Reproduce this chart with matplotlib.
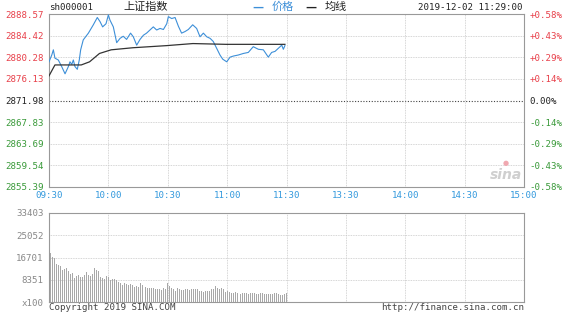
import matplotlib
matplotlib.use("Agg")
import matplotlib.pyplot as plt
import numpy as np

# ---------------- data ----------------
prev_close = 2871.98
price_ticks = [2855.39, 2859.54, 2863.69, 2867.83, 2871.98, 2876.13, 2880.28, 2884.42, 2888.57]
pct_labels = ["-0.58%", "-0.43%", "-0.29%", "-0.14%", "0.00%", "+0.14%", "+0.29%", "+0.43%", "+0.58%"]
time_ticks = [0, 30, 60, 90, 120, 150, 180, 210, 240]
time_labels = ["09:30", "10:00", "10:30", "11:00", "11:30", "13:30", "14:00", "14:30", "15:00"]

price_min = [0, 1.4, 2.2, 3.0, 4.7, 6.4, 8.1, 9.8, 10.6, 11.5, 12.3, 13.1, 14.3, 15.3, 16.0,
             17.3, 19.9, 22.4, 24.4, 25.8, 27.1, 28.8, 30.0, 30.8, 32.5, 34.2, 35.9, 37.5,
             39.2, 41.2, 42.6, 44.3, 46.0, 47.7, 49.3, 51.0, 52.7, 54.4, 56.1, 57.8, 59.5,
             60.3, 62.0, 63.7, 65.4, 67.0, 68.7, 70.4, 72.6, 74.6, 76.3, 78.0, 79.7, 81.4,
             83.0, 84.7, 86.4, 87.8, 89.8, 91.5, 93.1, 95.6, 98.2, 100.7, 103.2, 105.8,
             108.3, 110.8, 112.5, 114.2, 115.9, 117.6, 118.4, 119.2]
price = [2879.4, 2880.7, 2881.7, 2880.1, 2879.75, 2878.5, 2877.1, 2878.5, 2879.4, 2878.9,
         2879.75, 2878.5, 2877.96, 2879.75, 2881.7, 2883.6, 2884.9, 2886.5, 2887.9, 2887.1,
         2886.1, 2886.7, 2888.4, 2887.4, 2886.1, 2883.07, 2883.9, 2884.3, 2883.7, 2884.9,
         2884.2, 2882.6, 2883.7, 2884.5, 2884.9, 2885.5, 2886.1, 2885.5, 2885.8, 2885.6,
         2886.7, 2888.06, 2887.7, 2887.9, 2886.2, 2884.9, 2885.2, 2885.6, 2886.5, 2885.8,
         2884.2, 2884.9, 2884.2, 2883.9, 2883.3, 2882.0, 2880.7, 2879.9, 2879.4, 2880.3,
         2880.5, 2880.7, 2881.0, 2881.2, 2882.3, 2881.8, 2881.7, 2880.3, 2881.2, 2881.4,
         2882.0, 2882.6, 2881.8, 2882.5]

avg_min = [0, 3.0, 8.0, 16.3, 20.5, 25.5, 31.4, 42.4, 59.2, 72.7, 89.5, 118.2, 119.2]
avg_price = [2876.7, 2878.8, 2878.8, 2878.8, 2879.4, 2881.0, 2881.7, 2882.1, 2882.5,
             2882.9, 2882.75, 2882.75, 2882.75]

volume = [18300, 16800, 16500, 14200, 13900, 13600, 12000, 12400, 12600, 11600,
          10500, 10800, 8900, 9800, 10100, 9300, 9500, 10000, 11400, 10300,
          9800, 10500, 12600, 12000, 11800, 9500, 8900, 8800, 9600, 9400,
          8300, 8500, 8600, 8200, 7600, 7000, 6400, 7300, 6600, 6400,
          6600, 6200, 5800, 6000, 5500, 7300, 6400, 6000, 5500, 5100,
          5300, 5400, 5100, 4800, 5000, 4700, 4500, 5300, 5000, 7300,
          6000, 5200, 4700, 4300, 5200, 4800, 4600, 4500, 4900, 4800,
          4500, 4700, 4900, 5000, 4800, 4300, 4000, 3800, 4100, 4200,
          4300, 4700, 5000, 6100, 5200, 4800, 5300, 4900, 3900, 4000,
          3700, 3400, 3500, 3600, 3300, 3200, 3100, 3400, 3300, 3200,
          3000, 3300, 3400, 3200, 3100, 3000, 3300, 3400, 3100, 2900,
          2900, 3100, 3000, 3200, 3300, 3000, 2800, 2600, 3100, 3200]
vol_ticks = [0, 8351, 16701, 25052, 33403]
vol_labels = ["x100", "8351", "16701", "25052", "33403"]

# ---------------- style ----------------
MONO = "DejaVu Sans Mono"
CJK = ["Noto Sans CJK SC", "DejaVu Sans"]
RED = "#e8404a"
GREEN = "#3a9a3a"
BLUE = "#3399dd"
GRID = "#c8c8c8"
SPINE = "#999999"
FS = 6.6

fig = plt.figure(figsize=(5.68, 3.21), dpi=100)
fig.patch.set_facecolor("white")

ax = fig.add_axes([49 / 568, 1 - 187 / 321, 475 / 568, 173 / 321])
axv = fig.add_axes([49 / 568, 1 - 302 / 321, 475 / 568, 89 / 321])

# main price axes
ax.plot(price_min, price, color="#3d8fd8", lw=0.8, zorder=3)
ax.plot(avg_min, avg_price, color="#333333", lw=0.9, zorder=3)
ax.set_xlim(0, 240)
ax.set_ylim(price_ticks[0], price_ticks[-1])
ax.set_yticks(price_ticks)
ax.set_xticks(time_ticks)
ax.tick_params(length=0, pad=4)
ax.set_yticklabels([f"{v:.2f}" for v in price_ticks], fontfamily=MONO, fontsize=FS)
for lbl, v in zip(ax.get_yticklabels(), price_ticks):
    lbl.set_color(RED if v > prev_close + 0.01 else (GREEN if v < prev_close - 0.01 else "#222222"))
ax.set_xticklabels(time_labels, fontfamily=MONO, fontsize=FS, color=BLUE)
ax.tick_params(axis="x", pad=3)
for v in price_ticks[1:-1]:
    if abs(v - prev_close) < 0.01:
        ax.axhline(v, color="#444444", lw=0.8, ls=(0, (1, 1.5)), zorder=1)
    else:
        ax.axhline(v, color=GRID, lw=0.6, ls=(0, (1, 1)), zorder=1)
for t in time_ticks[1:-1]:
    ax.axvline(t, color=GRID, lw=0.6, ls=(0, (1, 1)), zorder=1)
for s in ax.spines.values():
    s.set_color(SPINE)
    s.set_linewidth(0.8)

# right percent labels
axr = ax.twinx()
axr.set_ylim(ax.get_ylim())
axr.set_yticks(price_ticks)
axr.set_yticklabels(pct_labels, fontfamily=MONO, fontsize=FS)
axr.tick_params(length=0, pad=4)
for lbl, t in zip(axr.get_yticklabels(), pct_labels):
    lbl.set_color(RED if t.startswith("+") else (GREEN if t.startswith("-") else "#222222"))
for s in axr.spines.values():
    s.set_visible(False)

# watermark
ax.text(0.995, 0.03, "sina", transform=ax.transAxes, ha="right", va="bottom",
        fontsize=10, fontstyle="italic", fontweight="bold", color="#cfcfcf",
        family="DejaVu Sans", zorder=2)
ax.text(0.962, 0.14, "\u25cf", transform=ax.transAxes, ha="center", va="center",
        fontsize=5, color="#f0a8b0", zorder=2)

# header
fig.text(49 / 568, 1 - 8 / 321, "sh000001", fontfamily=MONO, fontsize=FS,
         color="#222222", ha="left", va="center")
fig.text(123 / 568, 1 - 7 / 321, "上证指数", family=CJK, fontsize=8,
         color="#222222", ha="left", va="center")
fig.text(252 / 568, 1 - 8 / 321, "\u2014", family="DejaVu Sans", fontsize=8,
         color="#3d8fd8", ha="left", va="center", fontweight="bold")
fig.text(272 / 568, 1 - 7 / 321, "价格", family=CJK, fontsize=8,
         color="#3d8fd8", ha="left", va="center")
fig.text(305 / 568, 1 - 8 / 321, "\u2014", family="DejaVu Sans", fontsize=8,
         color="#222222", ha="left", va="center", fontweight="bold")
fig.text(325 / 568, 1 - 7 / 321, "均线", family=CJK, fontsize=8,
         color="#222222", ha="left", va="center")
fig.text(523 / 568, 1 - 8 / 321, "2019-12-02 11:29:00", fontfamily=MONO, fontsize=FS,
         color="#222222", ha="right", va="center")

# volume axes
minutes = np.arange(len(volume))
axv.bar(minutes + 1, volume, width=0.5, color="#a8a8a8", edgecolor="none", zorder=3)
axv.set_xlim(0, 240)
axv.set_ylim(0, vol_ticks[-1])
axv.set_yticks(vol_ticks)
axv.set_yticklabels(vol_labels, fontfamily=MONO, fontsize=FS, color="#888888")
axv.set_xticks([])
axv.tick_params(length=0, pad=4)
for v in vol_ticks[1:-1]:
    axv.axhline(v, color=GRID, lw=0.6, ls=(0, (1, 1)), zorder=1)
for t in time_ticks[1:-1]:
    axv.axvline(t, color=GRID, lw=0.6, ls=(0, (1, 1)), zorder=1)
for s in axv.spines.values():
    s.set_color(SPINE)
    s.set_linewidth(0.8)

fig.text(49 / 568, 1 - 308 / 321, "Copyright 2019 SINA.COM", fontfamily=MONO, fontsize=FS,
         color="#444444", ha="left", va="center")
fig.text(524 / 568, 1 - 308 / 321, "http://finance.sina.com.cn", fontfamily=MONO, fontsize=FS,
         color="#444444", ha="right", va="center")

fig.savefig("out.png", dpi=100, facecolor="white")
